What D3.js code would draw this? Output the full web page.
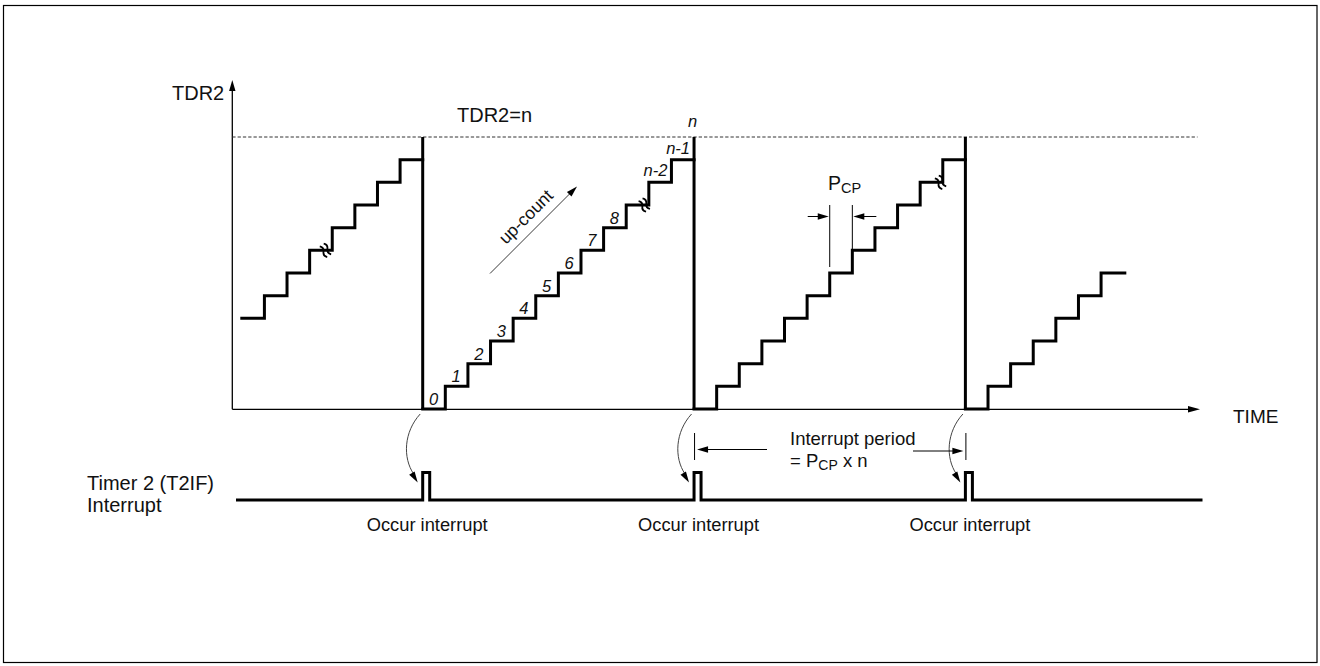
<!DOCTYPE html>
<html>
<head>
<meta charset="utf-8">
<script src="https://cdn.jsdelivr.net/npm/d3@7"></script>
<style>
  body { margin: 0; background: #fff; }
  text { font-family: "Liberation Sans", Arial, Helvetica, sans-serif; fill: #111; }
  .it { font-style: italic; }
</style>
</head>
<body>
<svg id="chart" width="1320" height="666"></svg>
<script>
// counter n (TDR2 match value) and reset times, in clock periods (PCP)
var nMatch = 12;
var resetTimes = [0, 12, 24];
var rampStart = [-8, 0, 12, 24];
var ramp1 = [4, 5, 6, 7, 8, 9, 10, 11];
var ramp2 = [0, 1, 2, 3, 4, 5, 6, 7, 8, 9, 10, 11];
var ramp3 = [0, 1, 2, 3, 4, 5, 6, 7, 8, 9, 10, 11];
var ramp4 = [0, 1, 2, 3, 4, 5, 6];
var traceFrom = -8.1, traceTo = 31.05;
var stepLabels = ["0", "1", "2", "3", "4", "5", "6", "7", "8", "", "n-2", "n-1"];
var breakT = [-4.3, 9.8, 22.9];
var breakV = [7, 9, 10];
var pcpAt = 18; // step shown with the P_CP marker

var svg = d3.select("#chart");

var x = d3.scaleLinear().domain([0, 24]).range([422.7, 965.4]);
var y = d3.scaleLinear().domain([0, nMatch]).range([409, 137]);

var axisX0 = 232.3, axisX1 = 1200, axisY0 = 409.3, axisY1 = 80;
var pulseBase = 500, pulseTop = 472.5, pulseW = 7;

// frame
svg.append("rect")
  .attr("x", 3.5).attr("y", 5.5)
  .attr("width", 1313.5).attr("height", 657)
  .attr("fill", "none").attr("stroke", "#000").attr("stroke-width", 1.2);

function arrowHead(g, tx, ty, angle, len, half) {
  g.append("path")
    .attr("d", "M0,0 L" + (-len) + "," + (-half) + " L" + (-len) + "," + half + " Z")
    .attr("transform", "translate(" + tx + "," + ty + ") rotate(" + angle + ")")
    .attr("fill", "#000");
}

var g = svg.append("g");

// axes
g.append("line")
  .attr("x1", axisX0).attr("y1", axisY0).attr("x2", axisX1 - 8).attr("y2", axisY0)
  .attr("stroke", "#000").attr("stroke-width", 1.3);
arrowHead(g, axisX1, axisY0, 0, 12, 3.2);
g.append("line")
  .attr("x1", axisX0).attr("y1", axisY0).attr("x2", axisX0).attr("y2", axisY1 + 8)
  .attr("stroke", "#000").attr("stroke-width", 1.3);
arrowHead(g, axisX0, axisY1, -90, 11, 3.2);

g.append("text").attr("x", 172).attr("y", 100).style("font-size", "20px").text("TDR2");
g.append("text").attr("x", 1233).attr("y", 423).style("font-size", "19px").text("TIME");

// TDR2 = n dashed level
g.append("line")
  .attr("x1", axisX0).attr("y1", y(nMatch)).attr("x2", 1197.5).attr("y2", y(nMatch))
  .attr("stroke", "#333").attr("stroke-width", 1)
  .attr("stroke-dasharray", "3.3,2");
g.append("text").attr("x", 457).attr("y", 122).style("font-size", "20px").text("TDR2=n");

// staircase
var ramps = [ramp1, ramp2, ramp3, ramp4];
var stair = d3.line()
  .x(function(d) { return x(d[0]); })
  .y(function(d) { return y(d[1]); })
  .curve(d3.curveStepAfter);

ramps.forEach(function(vals, i) {
  var pts = vals.map(function(v, k) {
    return [Math.max(rampStart[i] + k, traceFrom), v];
  });
  var end = i < ramps.length - 1 ? rampStart[i + 1] : traceTo;
  pts.push([end, vals[vals.length - 1]]);
  g.append("path")
    .attr("d", stair(pts))
    .attr("fill", "none").attr("stroke", "#000")
    .attr("stroke-width", 3).attr("stroke-linecap", "square");
});

// reset drops
g.selectAll(".reset").data(resetTimes).enter().append("line")
  .attr("class", "reset")
  .attr("x1", function(d) { return x(d); }).attr("x2", function(d) { return x(d); })
  .attr("y1", y(nMatch)).attr("y2", y(0))
  .attr("stroke", "#000").attr("stroke-width", 3);

// break marks on the stairs
breakT.forEach(function(t, i) {
  var bg = g.append("g")
    .attr("transform", "translate(" + x(t) + "," + y(breakV[i]) + ") rotate(-35)");
  [-2.4, 2.4].forEach(function(dx) {
    bg.append("path")
      .attr("d", "M" + dx + ",-6.5 q 3,3.2 0,6.5 q -3,3.2 0,6.5")
      .attr("fill", "none").attr("stroke", "#000").attr("stroke-width", 1.8);
  });
});

// step labels on second ramp
stepLabels.forEach(function(lab, k) {
  if (!lab) return;
  var t = rampStart[1] + k;
  var el = g.append("text").attr("class", "it").style("font-size", "16.5px").text(lab);
  if (lab.indexOf("n") === 0) {
    el.attr("x", x(t + 1) - 4).attr("y", y(k) - 6).attr("text-anchor", "end");
  } else {
    el.attr("x", x(t + 0.5) - 0.5).attr("y", y(k) - 4).attr("text-anchor", "middle");
  }
});
g.append("text").attr("class", "it").style("font-size", "16.5px")
  .attr("x", x(resetTimes[1]) - 1.5).attr("y", y(nMatch) - 10)
  .attr("text-anchor", "middle").text("n");

// up-count arrow
g.append("line")
  .attr("x1", 490).attr("y1", 273.5).attr("x2", 571).attr("y2", 192.5)
  .attr("stroke", "#222").attr("stroke-width", 0.9);
arrowHead(g, 577, 186.5, -45, 11, 3.2);
g.append("text")
  .attr("transform", "translate(530,221) rotate(-45)")
  .attr("text-anchor", "middle").style("font-size", "17.5px").text("up-count");

// P_CP marker
var pl = x(pcpAt), pr = x(pcpAt + 1);
g.append("line").attr("x1", pl).attr("x2", pl).attr("y1", 205).attr("y2", y(6) - 6)
  .attr("stroke", "#000").attr("stroke-width", 1);
g.append("line").attr("x1", pr).attr("x2", pr).attr("y1", 205).attr("y2", y(7))
  .attr("stroke", "#000").attr("stroke-width", 1);
g.append("line").attr("x1", pl - 22).attr("x2", pl - 8).attr("y1", 216.5).attr("y2", 216.5)
  .attr("stroke", "#000").attr("stroke-width", 1);
arrowHead(g, pl - 1, 216.5, 0, 11, 3.2);
g.append("line").attr("x1", pr + 24).attr("x2", pr + 8).attr("y1", 216.5).attr("y2", 216.5)
  .attr("stroke", "#000").attr("stroke-width", 1);
arrowHead(g, pr + 1, 216.5, 180, 11, 3.2);
var pcp = g.append("text").attr("x", 828).attr("y", 190).style("font-size", "19.5px");
pcp.append("tspan").text("P");
pcp.append("tspan").attr("dy", 3).style("font-size", "14.5px").text("CP");

// interrupt signal
var sig = d3.line();
var sigPts = [[236, pulseBase]];
resetTimes.forEach(function(t) {
  var px = x(t);
  sigPts.push([px, pulseBase], [px, pulseTop], [px + pulseW, pulseTop], [px + pulseW, pulseBase]);
});
sigPts.push([1202.5, pulseBase]);
g.append("path").attr("d", sig(sigPts))
  .attr("fill", "none").attr("stroke", "#000").attr("stroke-width", 3);

g.append("text").attr("x", 87).attr("y", 489.5).style("font-size", "20px").text("Timer 2 (T2IF)");
g.append("text").attr("x", 87).attr("y", 512).style("font-size", "20px").text("Interrupt");

resetTimes.forEach(function(t) {
  var xr = x(t);
  g.append("path")
    .attr("d", "M" + (xr - 2.5) + ",414 C" + (xr - 19) + ",432 " + (xr - 20) + ",458 " + (xr - 9) + ",474")
    .attr("fill", "none").attr("stroke", "#444").attr("stroke-width", 1);
  arrowHead(g, xr - 5, 482.5, 58, 11, 3.2);
  g.append("text").attr("x", xr + 4.5).attr("y", 530.7)
    .attr("text-anchor", "middle").style("font-size", "18.3px").text("Occur interrupt");
});

// interrupt period
[resetTimes[1], resetTimes[2]].forEach(function(t) {
  g.append("line").attr("x1", x(t) + 0.5).attr("x2", x(t) + 0.5).attr("y1", 433).attr("y2", 460)
    .attr("stroke", "#000").attr("stroke-width", 1);
});
g.append("line").attr("x1", 767).attr("x2", x(resetTimes[1]) + 12).attr("y1", 449.5).attr("y2", 449.5)
  .attr("stroke", "#000").attr("stroke-width", 1);
arrowHead(g, x(resetTimes[1]) + 3, 449.5, 180, 11, 3.2);
g.append("line").attr("x1", 913).attr("x2", x(resetTimes[2]) - 10).attr("y1", 451).attr("y2", 451)
  .attr("stroke", "#000").attr("stroke-width", 1);
arrowHead(g, x(resetTimes[2]) - 2, 451, 0, 11, 3.2);
g.append("text").attr("x", 790).attr("y", 445).style("font-size", "18.5px").text("Interrupt period");
var per = g.append("text").attr("x", 790).attr("y", 467).style("font-size", "18.5px");
per.append("tspan").text("= P");
per.append("tspan").attr("dy", 3).style("font-size", "14px").text("CP");
per.append("tspan").attr("dy", -3).text(" x n");
</script>
</body>
</html>
